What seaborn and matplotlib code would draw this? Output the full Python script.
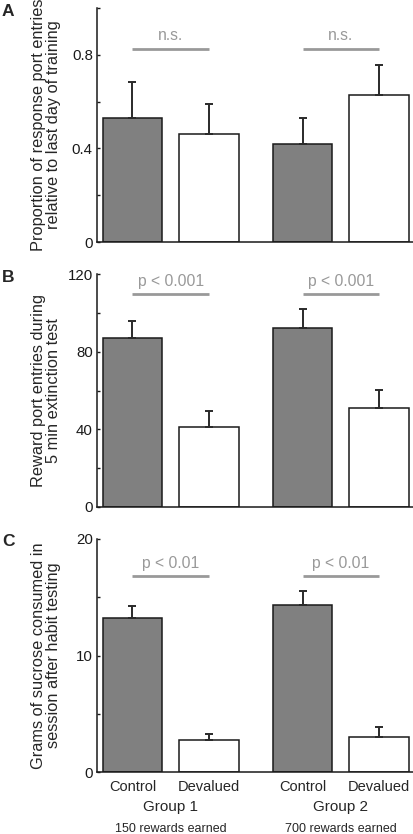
import matplotlib
matplotlib.use("Agg")
import numpy as np
import pandas as pd
import seaborn as sns
from matplotlib import pyplot as plt
from matplotlib import transforms
from matplotlib.ticker import MultipleLocator

# Data
groups = ["Group 1", "Group 2"]
group_notes = ["150 rewards earned", "700 rewards earned"]
conditions = ["Control", "Devalued"]

# order: Group 1 Control, Group 1 Devalued, Group 2 Control, Group 2 Devalued
prop_mean = [0.53, 0.46, 0.42, 0.63]
prop_sem = [0.155, 0.13, 0.11, 0.125]
entries_mean = [87, 41, 92, 51]
entries_sem = [9, 8.5, 10, 9.5]
sucrose_mean = [13.2, 2.75, 14.3, 3.0]
sucrose_sem = [1.05, 0.55, 1.2, 0.9]

panel_letters = ["A", "B", "C"]
ylabels = ["Proportion of response port entries\nrelative to last day of training",
           "Reward port entries during\n5 min extinction test",
           "Grams of sucrose consumed in\nsession after habit testing"]
sig_text = ["n.s.", "p < 0.001", "p < 0.01"]
sig_level = [0.826, 109.5, 16.8]
ylims = [1.0, 120, 20]
major_step = [0.4, 40, 10]
minor_step = [0.2, 20, 5]

sns.set_theme(style="ticks")
plt.rcParams["font.family"] = ["Liberation Sans", "DejaVu Sans"]

fig = plt.figure(figsize=(4.14, 8.34), dpi=100)
W, H = 414, 834
ax_left, ax_right = 97, 414
tops = [8, 274, 539]
bottoms = [242, 507, 772]

panels = [(prop_mean, prop_sem), (entries_mean, entries_sem), (sucrose_mean, sucrose_sem)]
grey = "#999999"

for i, (means, sems) in enumerate(panels):
    ax = fig.add_axes([ax_left / W, 1 - bottoms[i] / H,
                       (ax_right - ax_left) / W, (bottoms[i] - tops[i]) / H])
    df = pd.DataFrame({
        "group": [g for g in groups for _ in conditions],
        "condition": conditions * len(groups),
        "value": means,
        "sem": sems,
    })
    sns.barplot(data=df, x="group", y="value", hue="condition",
                hue_order=conditions, order=groups,
                palette={"Control": "#808080", "Devalued": "white"},
                width=0.9, gap=0.22, edgecolor="#1a1a1a", linewidth=1.1,
                errorbar=None, legend=False, saturation=1, ax=ax)

    # patches come hue-major: Control g1, Control g2, Devalued g1, Devalued g2
    ordered = df.set_index(["condition", "group"]).loc[
        [(c, g) for c in conditions for g in groups]]
    centers = {}
    for p, (key, row) in zip(ax.patches, ordered.iterrows()):
        x = p.get_x() + p.get_width() / 2
        centers[key] = x
        ax.errorbar(x, p.get_height(), yerr=[[0], [row["sem"]]], fmt="none",
                    ecolor="#2a2a2a", elinewidth=1.4, capsize=3, capthick=1.4,
                    zorder=1)

    for g in groups:
        x0, x1 = centers[("Control", g)], centers[("Devalued", g)]
        ax.plot([x0, x1], [sig_level[i]] * 2, color=grey, lw=2, solid_capstyle="butt")
        ax.annotate(sig_text[i], ((x0 + x1) / 2, sig_level[i]), xytext=(0, 4),
                    textcoords="offset points", ha="center", va="bottom",
                    color=grey, fontsize=11.3)

    ax.set_ylim(0, ylims[i])
    ax.set_xlim(-0.433, 1.43)
    ax.yaxis.set_major_locator(MultipleLocator(major_step[i]))
    ax.yaxis.set_minor_locator(MultipleLocator(minor_step[i]))
    if i == 0:
        ax.set_yticks([0, 0.4, 0.8])
        ax.set_yticklabels(["0", "0.4", "0.8"])
    ax.tick_params(axis="y", which="both", direction="in", length=2.5, width=1,
                   labelsize=10.8, pad=3, colors="#1a1a1a")
    ax.tick_params(axis="x", length=0)
    ax.set_ylabel(ylabels[i], fontsize=11.8, linespacing=1.0)
    ax.yaxis.set_label_coords(-0.112, 0.5)
    ax.set_xlabel("")
    sns.despine(ax=ax)
    for s in ["left", "bottom"]:
        ax.spines[s].set_linewidth(1.1)
        ax.spines[s].set_color("#1a1a1a")

    if i < 2:
        ax.set_xticks([])
    else:
        xs = [centers[(c, g)] for g in groups for c in conditions]
        ax.set_xticks(xs)
        ax.set_xticklabels(conditions * len(groups), fontsize=10.5)
        ax.tick_params(axis="x", pad=6)
        trans = transforms.blended_transform_factory(ax.transData, ax.transAxes)
        for j, g in enumerate(groups):
            ax.text(j, -0.152, g, transform=trans, ha="center", va="center", fontsize=11)
            ax.text(j, -0.245, group_notes[j], transform=trans, ha="center",
                    va="center", fontsize=9)

    fig.text(2 / W, 1 - 11 / H if i == 0 else 1 - (tops[i] + 3) / H,
             panel_letters[i], fontsize=12.5, fontweight="bold", va="center", ha="left")

fig.savefig("out.png", dpi=100)
